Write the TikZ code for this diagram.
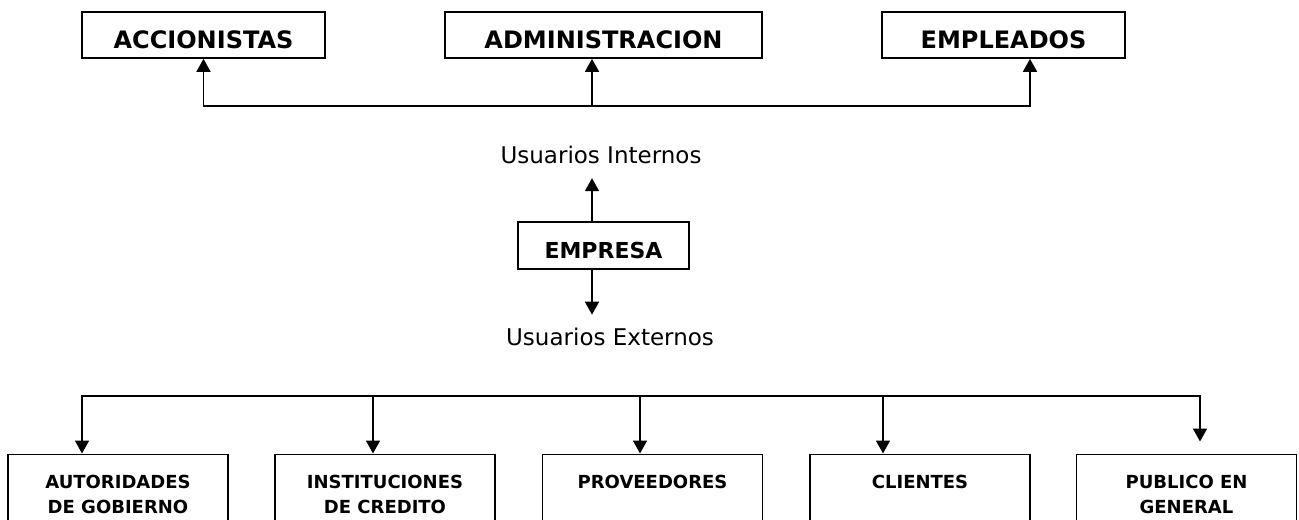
\documentclass[tikz,border=0pt]{standalone}
\usepackage{fontspec}
\setmainfont{DejaVu Sans}
\usetikzlibrary{arrows.meta}

\begin{document}
\begin{tikzpicture}[x=0.5pt, y=-0.5pt, line width=0.85pt,
    arr/.style={-{Triangle[length=6.5pt, width=7pt]}},
    topbox/.style={draw, inner sep=0pt, minimum height=23pt, text height=14pt, text depth=0pt,
      font=\fontsize{12}{14}\selectfont\bfseries},
    firmbox/.style={topbox, minimum width=85.5pt, minimum height=23.5pt, text height=12.5pt,
      font=\fontsize{11}{13}\selectfont\bfseries},
    userlbl/.style={inner sep=0pt, anchor=base, font=\fontsize{11.5}{14}\selectfont},
    botbox/.style={draw, anchor=north, minimum width=110pt, inner xsep=0pt, inner ysep=10.5pt,
      align=center, text depth=40pt, font=\fontsize{9}{12.5}\selectfont\bfseries}]

  \clip (0,0) rectangle (1299,519);

  % usuarios internos
  \node[topbox, minimum width=121.5pt] (acc) at (203.5,35) {ACCIONISTAS};
  \node[topbox, minimum width=158.5pt] (adm) at (603.5,35) {ADMINISTRACION};
  \node[topbox, minimum width=121.5pt] (emp) at (1003.5,35) {EMPLEADOS};
  \coordinate (busI) at (592,106);
  \draw[arr] (busI) -| (acc.south);
  \draw[arr] (busI) -- ([xshift=-5.75pt]adm.south);
  \draw[arr] (busI) -| ([xshift=13.25pt]emp.south);

  % empresa
  \node[userlbl] (uint) at (601,163) {Usuarios Internos};
  \node[firmbox] (firm) at (603.5,245.5) {EMPRESA};
  \node[userlbl] (uext) at (610,345) {Usuarios Externos};
  \draw[arr, shorten >=7pt] ([xshift=-5.75pt]firm.north) -- ([xshift=-5.75pt]firm.north |- uint.south);
  \draw[arr, shorten >=6pt] ([xshift=-5.75pt]firm.south) -- ([xshift=-5.75pt]firm.south |- uext.north);

  % usuarios externos
  \coordinate (busE) at (640,396);
  \foreach \n/\x/\dx/\gap/\txt in {aut/118/-18pt/0pt/{AUTORIDADES\\DE GOBIERNO},
      ins/385/-6pt/0pt/{INSTITUCIONES\\DE CREDITO}, pro/652.5/-6.25pt/0pt/PROVEEDORES,
      cli/920/-18.5pt/0pt/CLIENTES, pub/1186.5/6.75pt/6pt/{PUBLICO EN\\GENERAL}} {
    \node[botbox] (\n) at (\x,453.5) {\txt};
    \draw[arr, shorten >=\gap] ([xshift=\dx]\n.north |- busE) -- ([xshift=\dx]\n.north);
  }
  \draw[line cap=rect] ([xshift=-18pt]aut.north |- busE) -- ([xshift=6.75pt]pub.north |- busE);

\end{tikzpicture}
\end{document}
